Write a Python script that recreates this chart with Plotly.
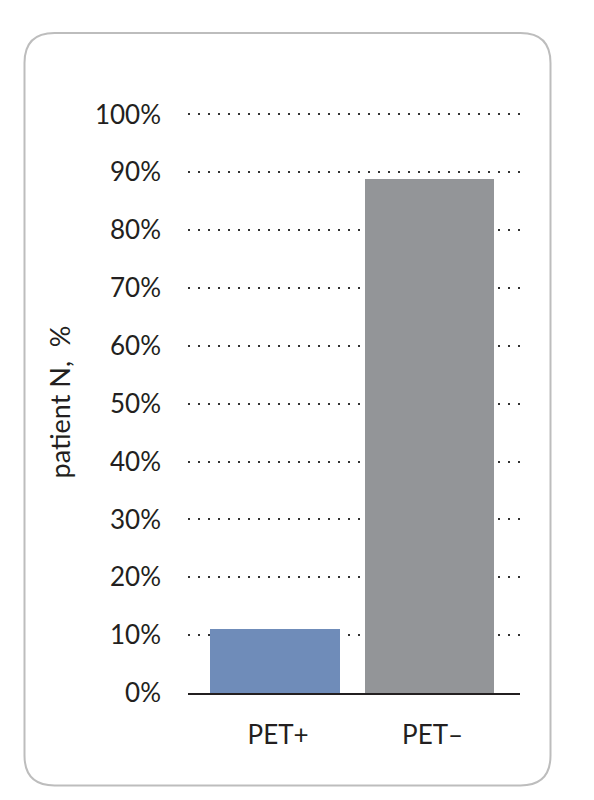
import plotly.graph_objects as go

categories = ["PET+", "PET\u2013"]
values = [11.1, 88.9]
bar_colors = ["#6f8cb9", "#939598"]
y_ticks = [0, 10, 20, 30, 40, 50, 60, 70, 80, 90, 100]
y_tick_labels = [f"{v}%" for v in y_ticks]

OFF = 8  # page body margin
W, H = 594 - 2 * OFF, 800 - 2 * OFF
YMAX = 100.6
L, R = 188 - OFF, 520 - OFF
B = 693 - OFF
T = B - (693 - 114) * YMAX / 100.0

fig = go.Figure()
fig.add_trace(go.Bar(
    x=[0, 1], y=values, marker=dict(color=bar_colors, line=dict(width=0)),
    width=0.84, hoverinfo="skip",
))

def px(xp):
    return (xp - OFF - L) / (R - L)

def py(yp):
    return (B - (yp - OFF)) / (B - T)

# rounded frame (reference pixel coordinates)
x0, x1, y0, y1, r = 24.5, 550.5, 32.5, 785.5, 30
path = (
    f"M {px(x0 + r)} {py(y0)} L {px(x1 - r)} {py(y0)} "
    f"Q {px(x1)} {py(y0)} {px(x1)} {py(y0 + r)} "
    f"L {px(x1)} {py(y1 - r)} Q {px(x1)} {py(y1)} {px(x1 - r)} {py(y1)} "
    f"L {px(x0 + r)} {py(y1)} Q {px(x0)} {py(y1)} {px(x0)} {py(y1 - r)} "
    f"L {px(x0)} {py(y0 + r)} Q {px(x0)} {py(y0)} {px(x0 + r)} {py(y0)} Z"
)
fig.add_shape(type="path", xref="paper", yref="paper", path=path,
              line=dict(color="#bdbdbd", width=2), layer="below")

fig.update_layout(
    width=W, height=H,
    margin=dict(l=L, r=W - R, t=T, b=H - B, pad=0),
    paper_bgcolor="white", plot_bgcolor="white",
    showlegend=False, bargap=0,
    font=dict(family="Lato", size=26, color="#231f20"),
)
fig.update_xaxes(
    range=[-0.563, 1.586], tickvals=[0.02, 1.02], ticktext=categories,
    showgrid=False, zeroline=False, showline=True, linecolor="#231f20", linewidth=2,
    ticks="", ticklabelstandoff=18, tickfont=dict(size=26),
    fixedrange=True,
)
fig.update_yaxes(
    range=[0, YMAX], tickvals=y_ticks, ticktext=y_tick_labels,
    showgrid=True, gridcolor="#333333", gridwidth=2, griddash="2px,8px",
    zeroline=False, showline=False, ticks="", ticklabelstandoff=26,
    tickfont=dict(size=26),
    title=dict(text="patient N,  %", font=dict(size=27), standoff=16),
    fixedrange=True,
)
fig.write_html("out.html")
